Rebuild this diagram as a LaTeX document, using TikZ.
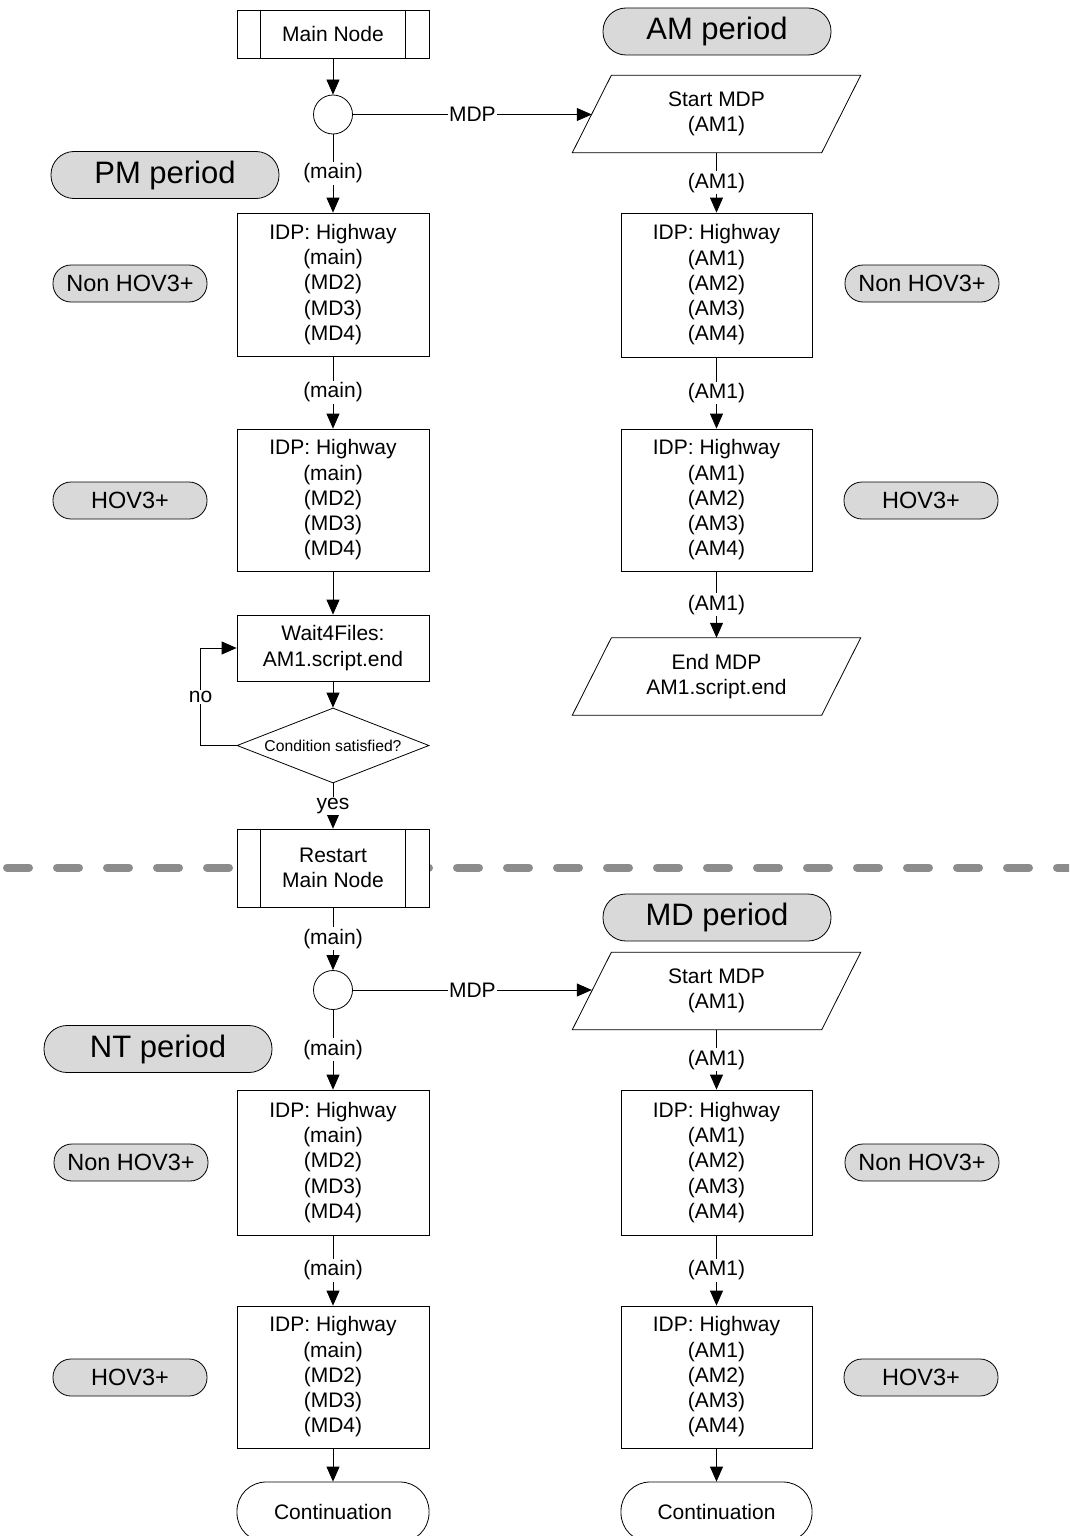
\documentclass[tikz,border=0pt]{standalone}
\usepackage{fontspec}
\setmainfont{Liberation Sans}
\usetikzlibrary{arrows.meta,shapes.geometric}
\definecolor{pillgray}{HTML}{D9D9D9}
\definecolor{dashgray}{HTML}{8C8C8C}
\begin{document}
\begin{tikzpicture}[x=1pt,y=-1pt,
  txt/.style={font=\fontsize{21}{25.25}\selectfont, align=center, inner sep=0pt},
  box/.style={txt, draw, fill=white, line width=0.8pt, minimum width=192pt},
  proc/.style={box, minimum height=#1},
  para/.style={txt, minimum width=249pt, minimum height=77pt},
  junc/.style={draw, fill=white, circle, line width=0.8pt, minimum size=39pt, inner sep=0pt},
  period/.style={draw, fill=pillgray, line width=0.8pt, rounded corners=23pt, minimum width=228pt, minimum height=47pt, inner sep=0pt, font=\fontsize{31}{36}\selectfont},
  vtag/.style={draw, fill=pillgray, line width=0.8pt, rounded corners=18pt, minimum width=154pt, minimum height=37pt, inner sep=0pt, font=\fontsize{23.5}{28}\selectfont},
  term/.style={box, rounded corners=29pt, minimum height=60pt},
  cond/.style={txt, draw, fill=white, diamond, aspect=2.56, line width=0.8pt, minimum width=192pt, minimum height=75pt, font=\fontsize{15.7}{18}\selectfont},
  lbl/.style={fill=white, inner sep=1.5pt, font=\fontsize{21}{25}\selectfont},
  arr/.style={-{Triangle[length=15pt,width=13pt]}, line width=0.8pt},
  conn/.style={line width=0.8pt},
  dashline/.style={draw=dashgray, line width=8pt, line cap=round, dash pattern=on 22pt off 28pt, dash phase=-7pt}
]
\useasboundingbox (0,0) rectangle (1069,1536);
\clip (0,0) rectangle (1069,1536);

% separator
\draw[dashline] (0,867.5) -- (1080,867.5);

% ---------- upper part ----------
\node[proc=48pt] (main) at (333,34) {Main Node};
\draw[conn] ([xshift=24pt]main.north west) -- ([xshift=24pt]main.south west);
\draw[conn] ([xshift=-24pt]main.north east) -- ([xshift=-24pt]main.south east);
\node[junc] (j1) at (333,114.5) {};
\node[period] (am) at (717,31.5) {AM period};
\node[period] (pm) at (165,175) {PM period};
\node[para] (s1) at (716.5,114) {Start MDP\\(AM1)};
\draw[conn] ([xshift=-19.5pt]s1.south west) -- ([xshift=19.5pt]s1.north west) -- ([xshift=19.5pt]s1.north east) -- ([xshift=-19.5pt]s1.south east) -- cycle;

\node[proc=143pt] (l1) at (333,284.5) {IDP: Highway\\(main)\\(MD2)\\(MD3)\\(MD4)};
\node[proc=142pt] (l2) at (333,500) {IDP: Highway\\(main)\\(MD2)\\(MD3)\\(MD4)};
\node[proc=144pt, minimum width=191pt] (r1) at (716.5,285) {IDP: Highway\\(AM1)\\(AM2)\\(AM3)\\(AM4)};
\node[proc=142pt, minimum width=191pt] (r2) at (716.5,500) {IDP: Highway\\(AM1)\\(AM2)\\(AM3)\\(AM4)};
\node[vtag] (nl1) at (130,283.5) {Non HOV3+};
\node[vtag] (hl1) at (130,500.5) {HOV3+};
\node[vtag] (nr1) at (922,283.5) {Non HOV3+};
\node[vtag] (hr1) at (921,500.5) {HOV3+};
\node[proc=66pt] (wait) at (333,648) {Wait4Files:\\AM1.script.end};
\node[cond] (cnd) at (333,745.5) {Condition satisfied?};
\node[para] (e1) at (716.5,676.5) {End MDP\\AM1.script.end};
\draw[conn] ([xshift=-19.5pt]e1.south west) -- ([xshift=19.5pt]e1.north west) -- ([xshift=19.5pt]e1.north east) -- ([xshift=-19.5pt]e1.south east) -- cycle;

\draw[arr] (main) -- (j1);
\draw[arr] (j1) -- node[lbl]{MDP} (j1 -| s1.west);
\draw[arr] (j1) -- node[lbl]{(main)} (l1);
\draw[arr] (l1) -- node[lbl]{(main)} (l2);
\draw[arr] (l2) -- (wait);
\draw[arr] (wait) -- (cnd);
\draw[arr] (cnd.west) -- ++(-36,0) |- node[lbl, pos=0.25]{no} (wait.west);
\draw[arr] (s1) -- node[lbl]{(AM1)} (r1);
\draw[arr] (r1) -- node[lbl]{(AM1)} (r2);
\draw[arr] (r2) -- node[lbl]{(AM1)} (e1);

% ---------- lower part ----------
\node[proc=78pt] (rst) at (333,868) {Restart\\Main Node};
\draw[conn] ([xshift=24pt]rst.north west) -- ([xshift=24pt]rst.south west);
\draw[conn] ([xshift=-24pt]rst.north east) -- ([xshift=-24pt]rst.south east);
\draw[arr] (cnd) -- node[lbl]{yes} (rst);
\node[junc] (j2) at (333,990) {};
\node[period] (md) at (717,917.5) {MD period};
\node[period] (nt) at (158,1049) {NT period};
\node[para] (s2) at (716.5,991) {Start MDP\\(AM1)};
\draw[conn] ([xshift=-19.5pt]s2.south west) -- ([xshift=19.5pt]s2.north west) -- ([xshift=19.5pt]s2.north east) -- ([xshift=-19.5pt]s2.south east) -- cycle;
\node[proc=145pt] (l3) at (333,1162.5) {IDP: Highway\\(main)\\(MD2)\\(MD3)\\(MD4)};
\node[proc=142pt] (l4) at (333,1377) {IDP: Highway\\(main)\\(MD2)\\(MD3)\\(MD4)};
\node[proc=145pt, minimum width=191pt] (r3) at (716.5,1162.5) {IDP: Highway\\(AM1)\\(AM2)\\(AM3)\\(AM4)};
\node[proc=142pt, minimum width=191pt] (r4) at (716.5,1377) {IDP: Highway\\(AM1)\\(AM2)\\(AM3)\\(AM4)};
\node[vtag] (nl2) at (131,1162.5) {Non HOV3+};
\node[vtag] (hl2) at (130,1377.5) {HOV3+};
\node[vtag] (nr2) at (922,1162.5) {Non HOV3+};
\node[vtag] (hr2) at (921,1377.5) {HOV3+};
\node[term] (c1) at (333,1512) {Continuation};
\node[term, minimum width=191pt] (c2) at (716.5,1512) {Continuation};

\draw[arr] (rst) -- node[lbl]{(main)} (j2);
\draw[arr] (j2) -- node[lbl]{MDP} (j2 -| s2.west);
\draw[arr] (j2) -- node[lbl]{(main)} (l3);
\draw[arr] (l3) -- node[lbl]{(main)} (l4);
\draw[arr] (l4) -- (c1);
\draw[arr] (s2) -- node[lbl]{(AM1)} (r3);
\draw[arr] (r3) -- node[lbl]{(AM1)} (r4);
\draw[arr] (r4) -- (c2);
\end{tikzpicture}
\end{document}
